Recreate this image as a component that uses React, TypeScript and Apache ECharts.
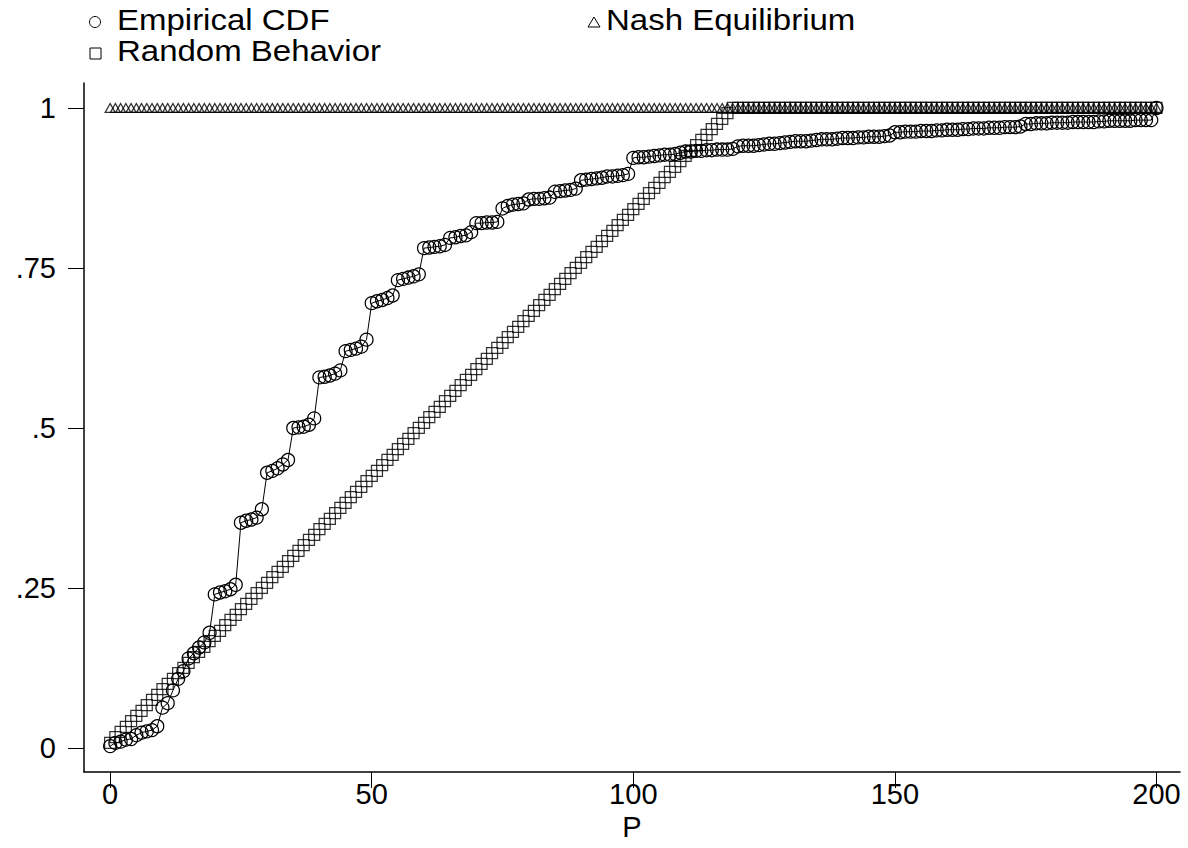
import React, { useEffect, useRef } from "react";
import * as echarts from "echarts";

// P values 0..200
const P: number[] = Array.from({ length: 201 }, (_, i) => i);

const empiricalCDF: number[] = [
  0.003, 0.008, 0.01, 0.013, 0.014, 0.02, 0.024, 0.026, 0.028, 0.034,
  0.063, 0.07, 0.09, 0.108, 0.12, 0.14, 0.148, 0.157, 0.165, 0.18,
  0.24, 0.243, 0.245, 0.248, 0.255, 0.352, 0.355, 0.357, 0.36, 0.373,
  0.43, 0.433, 0.437, 0.443, 0.45, 0.5, 0.501, 0.502, 0.505, 0.515,
  0.579, 0.58, 0.582, 0.585, 0.59, 0.62, 0.622, 0.624, 0.627, 0.638,
  0.695, 0.698, 0.7, 0.703, 0.707, 0.731, 0.733, 0.735, 0.737, 0.74,
  0.781, 0.782, 0.783, 0.784, 0.786, 0.797, 0.798, 0.8, 0.801, 0.806,
  0.82, 0.82, 0.821, 0.821, 0.822, 0.843, 0.847, 0.849, 0.85, 0.851,
  0.857, 0.858, 0.858, 0.859, 0.86, 0.869, 0.87, 0.871, 0.872, 0.874,
  0.887, 0.888, 0.889, 0.89, 0.891, 0.893, 0.893, 0.894, 0.895, 0.897,
  0.922, 0.923, 0.923, 0.924, 0.925, 0.926, 0.927, 0.927, 0.928, 0.93,
  0.932, 0.932, 0.933, 0.933, 0.934, 0.934, 0.935, 0.935, 0.935, 0.936,
  0.94, 0.941, 0.941, 0.941, 0.942, 0.943, 0.944, 0.944, 0.945, 0.946,
  0.947, 0.948, 0.948, 0.948, 0.949, 0.95, 0.951, 0.951, 0.951, 0.952,
  0.953, 0.953, 0.953, 0.954, 0.954, 0.955, 0.955, 0.955, 0.956, 0.957,
  0.962, 0.962, 0.963, 0.963, 0.963, 0.964, 0.964, 0.964, 0.965, 0.965,
  0.966, 0.966, 0.966, 0.967, 0.967, 0.968, 0.968, 0.968, 0.969, 0.969,
  0.969, 0.97, 0.97, 0.97, 0.971, 0.975, 0.975, 0.976, 0.976, 0.976,
  0.977, 0.977, 0.977, 0.977, 0.978, 0.978, 0.978, 0.978, 0.978, 0.979,
  0.979, 0.98, 0.98, 0.98, 0.98, 0.98, 0.981, 0.981, 0.981, 0.981,
  1.0,
];

const nashEquilibrium: number[] = [
  1, 1, 1, 1, 1, 1, 1, 1, 1, 1, 1, 1, 1, 1, 1, 1, 1, 1, 1, 1,
  1, 1, 1, 1, 1, 1, 1, 1, 1, 1, 1, 1, 1, 1, 1, 1, 1, 1, 1, 1,
  1, 1, 1, 1, 1, 1, 1, 1, 1, 1, 1, 1, 1, 1, 1, 1, 1, 1, 1, 1,
  1, 1, 1, 1, 1, 1, 1, 1, 1, 1, 1, 1, 1, 1, 1, 1, 1, 1, 1, 1,
  1, 1, 1, 1, 1, 1, 1, 1, 1, 1, 1, 1, 1, 1, 1, 1, 1, 1, 1, 1,
  1, 1, 1, 1, 1, 1, 1, 1, 1, 1, 1, 1, 1, 1, 1, 1, 1, 1, 1, 1,
  1, 1, 1, 1, 1, 1, 1, 1, 1, 1, 1, 1, 1, 1, 1, 1, 1, 1, 1, 1,
  1, 1, 1, 1, 1, 1, 1, 1, 1, 1, 1, 1, 1, 1, 1, 1, 1, 1, 1, 1,
  1, 1, 1, 1, 1, 1, 1, 1, 1, 1, 1, 1, 1, 1, 1, 1, 1, 1, 1, 1,
  1, 1, 1, 1, 1, 1, 1, 1, 1, 1, 1, 1, 1, 1, 1, 1, 1, 1, 1, 1,
  1,
];

const randomBehavior: number[] = [
  0.008, 0.017, 0.025, 0.033, 0.042, 0.05, 0.058, 0.067, 0.075, 0.083,
  0.092, 0.1, 0.108, 0.117, 0.125, 0.133, 0.142, 0.15, 0.158, 0.167,
  0.175, 0.183, 0.192, 0.2, 0.208, 0.217, 0.225, 0.233, 0.242, 0.25,
  0.258, 0.267, 0.275, 0.283, 0.292, 0.3, 0.308, 0.317, 0.325, 0.333,
  0.342, 0.35, 0.358, 0.367, 0.375, 0.383, 0.392, 0.4, 0.408, 0.417,
  0.425, 0.433, 0.442, 0.45, 0.458, 0.467, 0.475, 0.483, 0.492, 0.5,
  0.508, 0.517, 0.525, 0.533, 0.542, 0.55, 0.558, 0.567, 0.575, 0.583,
  0.592, 0.6, 0.608, 0.617, 0.625, 0.633, 0.642, 0.65, 0.658, 0.667,
  0.675, 0.683, 0.692, 0.7, 0.708, 0.717, 0.725, 0.733, 0.742, 0.75,
  0.758, 0.767, 0.775, 0.783, 0.792, 0.8, 0.808, 0.817, 0.825, 0.833,
  0.842, 0.85, 0.858, 0.867, 0.875, 0.883, 0.892, 0.9, 0.908, 0.917,
  0.925, 0.933, 0.942, 0.95, 0.958, 0.967, 0.975, 0.983, 0.992, 1,
  1, 1, 1, 1, 1, 1, 1, 1, 1, 1, 1, 1, 1, 1, 1, 1, 1, 1, 1, 1,
  1, 1, 1, 1, 1, 1, 1, 1, 1, 1, 1, 1, 1, 1, 1, 1, 1, 1, 1, 1,
  1, 1, 1, 1, 1, 1, 1, 1, 1, 1, 1, 1, 1, 1, 1, 1, 1, 1, 1, 1,
  1, 1, 1, 1, 1, 1, 1, 1, 1, 1, 1, 1, 1, 1, 1, 1, 1, 1, 1, 1,
  1,
];

const xTicks: number[] = [0, 50, 100, 150, 200];
const yTicks: number[] = [0, 0.25, 0.5, 0.75, 1];
const yTickLabels: string[] = ["0", ".25", ".5", ".75", "1"];

const seriesNames = ["Empirical CDF", "Nash Equilibrium", "Random Behavior"];

const FONT = "'Liberation Sans', Arial, Helvetica, sans-serif";

export default function App() {
  const ref = useRef<HTMLDivElement>(null);

  useEffect(() => {
    if (!ref.current) return;
    const chart = echarts.init(ref.current, null, { renderer: "svg" });
    const pair = (ys: number[]) => P.map((x, i) => [x, ys[i]]);
    const hollow = {
      color: "rgba(0,0,0,0)",
      borderColor: "#000",
      borderWidth: 1.25,
    };
    const legendText = (text: string, x: number, y: number) => ({
      type: "text",
      x,
      y,
      scaleX: 1.1,
      style: {
        text,
        fontSize: 30,
        fontFamily: FONT,
        fill: "#000",
        verticalAlign: "middle",
      },
    });
    chart.setOption({
      animation: false,
      backgroundColor: "#fff",
      textStyle: { fontFamily: FONT },
      grid: {
        left: 84,
        right: 8,
        top: 83,
        bottom: 76,
        containLabel: false,
        outerBoundsMode: "none",
      },
      xAxis: {
        type: "value",
        min: -5,
        max: 204.5,
        name: "P",
        nameLocation: "middle",
        nameGap: 44,
        nameMoveOverlap: false,
        nameTextStyle: { fontSize: 29, lineHeight: 22, color: "#000", fontFamily: FONT },
        axisLine: { show: true, onZero: false, lineStyle: { color: "#000", width: 1.5 } },
        axisTick: {
          show: true,
          length: 16,
          customValues: xTicks,
          lineStyle: { color: "#000", width: 1 },
        },
        axisLabel: {
          customValues: xTicks,
          fontSize: 29,
          lineHeight: 22,
          color: "#000",
          margin: 11,
          fontFamily: FONT,
        },
        splitLine: { show: false },
      },
      yAxis: {
        type: "value",
        min: -0.0375,
        max: 1.039,
        axisLine: { show: true, onZero: false, lineStyle: { color: "#000", width: 1.5 } },
        axisTick: {
          show: true,
          length: 16,
          customValues: yTicks,
          lineStyle: { color: "#000", width: 1 },
        },
        axisLabel: {
          customValues: yTicks,
          fontSize: 29,
          color: "#000",
          margin: 28,
          fontFamily: FONT,
          formatter: (v: number) => {
            const idx = yTicks.findIndex((t) => Math.abs(t - v) < 1e-6);
            return idx >= 0 ? yTickLabels[idx] : "";
          },
        },
        splitLine: { show: false },
      },
      series: [
        {
          name: seriesNames[1],
          type: "scatter",
          data: pair(nashEquilibrium),
          symbol: "triangle",
          symbolSize: [10, 9],
          itemStyle: hollow,
          z: 2,
        },
        {
          name: seriesNames[2],
          type: "scatter",
          data: pair(randomBehavior),
          symbol: "rect",
          symbolSize: 11,
          itemStyle: hollow,
          z: 3,
        },
        {
          name: seriesNames[0],
          type: "line",
          data: pair(empiricalCDF),
          symbol: "circle",
          symbolSize: 13,
          showSymbol: true,
          showAllSymbol: true,
          itemStyle: hollow,
          lineStyle: { color: "#000", width: 1 },
          z: 4,
        },
      ],
      graphic: [
        {
          type: "circle",
          shape: { cx: 95, cy: 22, r: 5.5 },
          style: { fill: "none", stroke: "#000", lineWidth: 1 },
        },
        legendText(seriesNames[0], 117, 20),
        {
          type: "polygon",
          shape: { points: [[588, 27], [600, 27], [594, 17]] },
          style: { fill: "none", stroke: "#000", lineWidth: 1 },
        },
        legendText(seriesNames[1], 606, 20),
        {
          type: "rect",
          shape: { x: 90, y: 48, width: 11, height: 11 },
          style: { fill: "none", stroke: "#000", lineWidth: 1 },
        },
        legendText(seriesNames[2], 117, 51),
      ],
    });
    return () => chart.dispose();
  }, []);

  return (
    <div
      ref={ref}
      style={{ position: "fixed", left: 0, top: 0, width: 1188, height: 848 }}
    />
  );
}
